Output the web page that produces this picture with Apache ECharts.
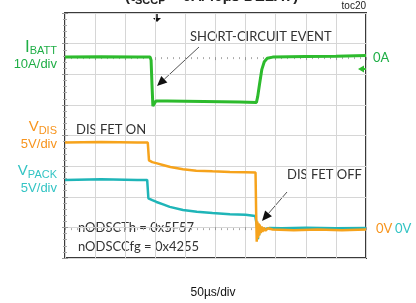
<!DOCTYPE html>
<html>
<head>
<meta charset="utf-8">
<script src="https://cdn.jsdelivr.net/npm/echarts@6/dist/echarts.min.js"></script>
<style>
  html, body { margin: 0; padding: 0; background: #fff; }
  #main { width: 416px; height: 303px; }
</style>
</head>
<body>
<div id="main"></div>
<script>
// time base: 50us/div, 10 div
var timeTicks = [0, 50, 100, 150, 200, 250, 300, 350, 400, 450, 500]

// IBATT (A), 10A/div
var ibattT = [0, 60, 120, 141.5, 143, 144.5, 146, 148, 151, 170, 200, 230, 260, 290, 318, 320, 323, 327, 331, 336, 345, 400, 450, 500]
var ibattA = [0, 0.1, 0, 0, -1, -9, -16, -15.4, -14.3, -14.3, -14.4, -14.5, -14.6, -14.7, -14.8, -13, -9, -4, -1.5, -0.4, 0, 0.2, 0.3, 0.5]

// VDIS (V), 5V/div
var vdisT = [0, 60, 120, 137.5, 139.5, 145, 153, 164, 175, 196, 218, 245, 274, 300, 316.5, 317.5, 318.5, 319.5, 320.5, 321.5, 322.5, 323.5, 325, 326.5, 328, 330, 333, 337, 345, 380, 420, 460, 500]
var vdisV = [14.3, 14.4, 14.3, 14.3, 11.4, 11.1, 10.9, 10.6, 10.3, 9.95, 9.7, 9.6, 9.5, 9.45, 9.4, 3.0, -1.9, 1.4, -1.3, 1.1, -0.9, 0.9, -0.5, 0.6, -0.3, 0.4, -0.1, 0.3, 0.1, 0, 0.1, 0, 0.1]

// VPACK (V), 5V/div
var vpackT = [0, 60, 120, 136.5, 138.5, 145, 152, 163, 174, 196, 219, 245, 274, 300, 316, 318.5, 319.5, 320.5, 321.5, 322.5, 323.5, 325, 326.5, 328, 330, 334, 340, 360, 400, 450, 500]
var vpackV = [8.2, 8.3, 8.2, 8.2, 5.2, 4.9, 4.6, 4.2, 3.8, 3.3, 3.0, 2.8, 2.6, 2.5, 2.3, 2.1, 0.3, -1.5, 1.0, -0.8, 0.7, -0.4, 0.5, 0.1, 0.4, 0.2, 0.35, 0.3, 0.4, 0.3, 0.35]

var GREEN = '#2dbb2d', GREEN_TXT = '#1fae46'
var ORANGE = '#f6a31c', ORANGE_TXT = '#f7941d'
var CYAN = '#1fb5b8', CYAN_TXT = '#33c4c4'
var DARK = '#333333'

// where the 0 marker of each channel sits (in divisions from bottom), and scale per div
var ibattZeroDiv = 6.56, ampsPerDiv = 10
var voltZeroDiv = 0.91, voltsPerDiv = 5

function zip(t, v) {
  return t.map(function (x, i) { return [x, v[i]] })
}

var cv = document.createElement('canvas').getContext('2d')
function textW(str, font) { cv.font = font; return cv.measureText(str).width }

// label with subscript, right aligned at x
function subLabel(main, sub, xRight, y, color, mainFont, subFont, drop) {
  var ws = textW(sub, subFont)
  return [
    { type: 'text', x: xRight - ws, y: y, style: { text: main, fill: color, font: mainFont, textAlign: 'right', textVerticalAlign: 'middle', align: 'right', verticalAlign: 'middle' } },
    { type: 'text', x: xRight, y: y + drop, style: { text: sub, fill: color, font: subFont, textAlign: 'right', textVerticalAlign: 'middle', align: 'right', verticalAlign: 'middle' } }
  ]
}

function txt(str, x, y, color, font, align) {
  return { type: 'text', x: x, y: y, style: { text: str, fill: color, font: font, textAlign: align || 'left', textVerticalAlign: 'middle', align: align || 'left', verticalAlign: 'middle' } }
}

function arrow(x1, y1, x2, y2) {
  var a = Math.atan2(y2 - y1, x2 - x1), L = 10, W = 4.5
  var bx = x2 - L * Math.cos(a), by = y2 - L * Math.sin(a)
  return [
    { type: 'line', shape: { x1: x1, y1: y1, x2: bx, y2: by }, style: { stroke: '#555', lineWidth: 1 } },
    { type: 'polygon', shape: { points: [[x2, y2], [bx + W * Math.sin(a), by - W * Math.cos(a)], [bx - W * Math.sin(a), by + W * Math.cos(a)]] }, style: { fill: '#111' } }
  ]
}

var annFont = '13px Lato'
var titleFont = 'bold 15px "Liberation Sans"', titleSub = 'bold 11px "Liberation Sans"'
var lblFont = '15px "Liberation Sans"', lblSub = '11px "Liberation Sans"', divFont = '13px "Liberation Sans"'

var graphics = []
  .concat(subLabel('I', 'BATT', 57, 47, GREEN_TXT, '17px "Liberation Sans"', lblSub, 4))
  .concat([txt('10A/div', 57, 64, GREEN_TXT, divFont, 'right')])
  .concat(subLabel('V', 'DIS', 57, 127, ORANGE_TXT, lblFont, lblSub, 4))
  .concat([txt('5V/div', 57, 144, ORANGE_TXT, divFont, 'right')])
  .concat(subLabel('V', 'PACK', 57, 171, CYAN_TXT, lblFont, lblSub, 4))
  .concat([txt('5V/div', 57, 188, CYAN_TXT, divFont, 'right')])
  .concat([
    txt('0A', 373, 58, GREEN_TXT, '13px Lato'),
    txt('0V', 376, 229, ORANGE_TXT, '13px Lato'),
    txt('0V', 395, 229, CYAN_TXT, '13px Lato'),
    txt('SHORT-CIRCUIT EVENT', 190, 37, DARK, annFont),
    txt('DIS FET ON', 76, 130, DARK, annFont),
    txt('DIS FET OFF', 287, 175, DARK, annFont),
    txt('nODSCTh = 0x5F57', 78, 228, DARK, annFont),
    txt('nODSCCfg = 0x4255', 78, 247, DARK, annFont),
    txt('50µs/div', 213, 293, '#111', '12px "Liberation Sans"', 'center'),
    txt('toc20', 366, 6, '#222', '10px "Liberation Sans"', 'right'),
    // cut-off title
    { type: 'text', x: 125, y: 4, style: { text: '(t', fill: '#222', font: titleFont, textVerticalAlign: 'bottom', verticalAlign: 'bottom' } },
    { type: 'text', x: 125 + textW('(t', titleFont), y: 6, style: { text: 'SCCP', fill: '#222', font: titleSub, textVerticalAlign: 'bottom', verticalAlign: 'bottom' } },
    { type: 'text', x: 125 + textW('(t', titleFont) + textW('SCCP', titleSub), y: 4, style: { text: ' = 0A/40µs DELAY)', fill: '#222', font: titleFont, textVerticalAlign: 'bottom', verticalAlign: 'bottom' } },
    // trigger marker
    { type: 'line', shape: { x1: 157, y1: 14, x2: 157, y2: 19 }, style: { stroke: '#111', lineWidth: 1.5 } },
    { type: 'polygon', shape: { points: [[153, 18], [161, 18], [157, 22]] }, style: { fill: '#111' } },
    // IBATT ground marker
    { type: 'polygon', shape: { points: [[358, 69], [364, 65.5], [364, 72.5]] }, style: { fill: GREEN } },
    { type: 'line', shape: { x1: 363, y1: 69, x2: 366, y2: 69 }, style: { stroke: GREEN, lineWidth: 2 } }
  ])
  .concat(arrow(199, 47, 157, 86))
  .concat(arrow(287, 192, 262, 221))

function gridAxis(extra) {
  return Object.assign({
    type: 'value',
    axisLabel: { show: false },
    axisLine: { show: false },
    axisTick: { show: true, inside: true, length: 3, lineStyle: { color: '#999', width: 1 } },
    minorTick: { show: true, splitNumber: 5, length: 2, lineStyle: { color: '#aaa', width: 1 } },
    splitLine: { show: false }
  }, extra)
}
function gridLine() {
  return { show: true, lineStyle: { color: '#d6d6d6', type: 'solid', width: 1 } }
}

var myChart = echarts.init(document.getElementById('main'))
var option = {
  animation: false,
  backgroundColor: '#fff',
  grid: { left: 65, top: 13, width: 301, height: 245, show: true, borderColor: '#3a3a3a', borderWidth: 2 },
  xAxis: [
    gridAxis({ min: timeTicks[0], max: timeTicks[timeTicks.length - 1], interval: 50, position: 'bottom', splitLine: gridLine() }),
    gridAxis({ min: timeTicks[0], max: timeTicks[timeTicks.length - 1], interval: 50, position: 'top' })
  ],
  yAxis: [
    // volts axis: ticks counted from min, so each tick lands on a screen division
    gridAxis({ min: -voltZeroDiv * voltsPerDiv, max: (8 - voltZeroDiv) * voltsPerDiv, interval: voltsPerDiv, position: 'left', splitLine: gridLine() }),
    // amps axis on the right
    gridAxis({ min: -ibattZeroDiv * ampsPerDiv, max: (8 - ibattZeroDiv) * ampsPerDiv, interval: ampsPerDiv, position: 'right' })
  ],
  series: [
    { name: 'VPACK', type: 'line', yAxisIndex: 0, symbol: 'none', z: 2, lineStyle: { color: CYAN, width: 2.5 }, data: zip(vpackT, vpackV) },
    { name: 'VDIS', type: 'line', yAxisIndex: 0, symbol: 'none', z: 3, lineStyle: { color: ORANGE, width: 2.5 }, data: zip(vdisT, vdisV) },
    { name: 'IBATT', type: 'line', yAxisIndex: 1, symbol: 'none', z: 4, lineStyle: { color: GREEN, width: 3 }, data: zip(ibattT, ibattA) }
  ],
  graphic: graphics
}
myChart.setOption(option)
</script>
</body>
</html>
